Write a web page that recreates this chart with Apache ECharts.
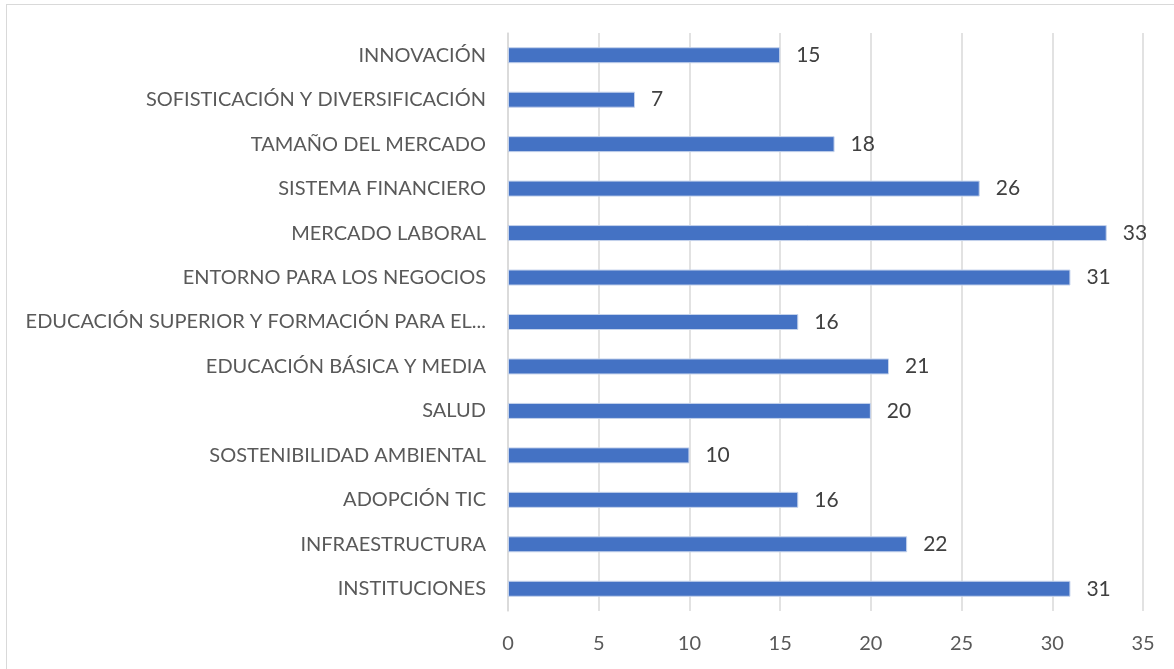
<!DOCTYPE html>
<html>
<head>
<meta charset="utf-8">
<script src="https://cdn.jsdelivr.net/npm/echarts@6/dist/echarts.min.js"></script>
<style>
  html, body { margin: 0; padding: 0; background: #fff; }
  #frame { position: absolute; left: 6px; top: 4px; width: 1180px; height: 680px; border: 1px solid #d9d9d9; box-sizing: border-box; }
  #chart { position: absolute; left: 0; top: 0; width: 1174px; height: 669px; }
</style>
</head>
<body>
<div id="frame"></div>
<div id="chart"></div>
<script>
// bottom to top, as the axis draws them
const categories = [
  "INSTITUCIONES",
  "INFRAESTRUCTURA",
  "ADOPCIÓN TIC",
  "SOSTENIBILIDAD AMBIENTAL",
  "SALUD",
  "EDUCACIÓN BÁSICA Y MEDIA",
  "EDUCACIÓN SUPERIOR Y FORMACIÓN PARA EL...",
  "ENTORNO PARA LOS NEGOCIOS",
  "MERCADO LABORAL",
  "SISTEMA FINANCIERO",
  "TAMAÑO DEL MERCADO",
  "SOFISTICACIÓN Y DIVERSIFICACIÓN",
  "INNOVACIÓN"
];
const values = [31, 22, 16, 10, 20, 21, 16, 31, 33, 26, 18, 7, 15];

const textColor = "#595959";
const font = "Lato, 'Open Sans', sans-serif";

const chart = echarts.init(document.getElementById("chart"));
chart.setOption({
  animation: false,
  grid: { left: 508, right: 31, top: 33, bottom: 58 },
  xAxis: {
    type: "value",
    min: 0,
    max: 35,
    interval: 5,
    axisLine: { show: false },
    axisTick: { show: false },
    splitLine: { lineStyle: { color: "#d9d9d9", width: 1.5 } },
    axisLabel: { color: textColor, fontSize: 20, fontFamily: font, margin: 23 }
  },
  yAxis: {
    type: "category",
    data: categories,
    axisLine: { show: true, lineStyle: { color: "#d9d9d9", width: 1.5 } },
    axisTick: { show: false },
    axisLabel: { color: textColor, fontSize: 20, fontFamily: font, margin: 22 }
  },
  series: [{
    type: "bar",
    data: values,
    barWidth: 16,
    itemStyle: { color: "#4472C4", borderColor: "#c5d3ec", borderWidth: 1 },
    label: {
      show: true,
      position: "right",
      distance: 16,
      color: "#404040",
      fontSize: 21,
      fontFamily: font
    }
  }]
});
</script>
</body>
</html>
